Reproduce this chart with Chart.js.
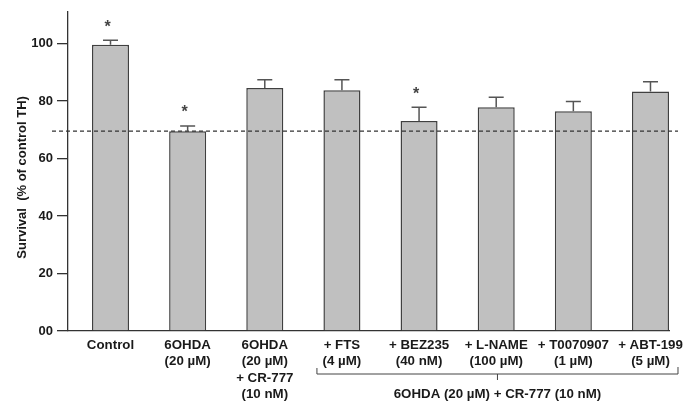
<!DOCTYPE html>
<html>
<head>
<meta charset="utf-8">
<script src="https://cdn.jsdelivr.net/npm/chart.js@4"></script>
<style>
  body { margin: 0; background: #fff; }
  #wrap { width: 697px; height: 411px; }
</style>
</head>
<body>
<div id="wrap"><canvas id="mycanvas"></canvas></div>
<script>
// data
var categories = [
	['Control'],
	['6OHDA', '(20 µM)'],
	['6OHDA', '(20 µM)', '+ CR-777', '(10 nM)'],
	['+ FTS', '(4 µM)'],
	['+ BEZ235', '(40 nM)'],
	['+ L-NAME', '(100 µM)'],
	['+ T0070907', '(1 µM)'],
	['+ ABT-199', '(5 µM)']
];
var survival = [99.5, 69.5, 84.5, 83.7, 73.0, 77.8, 76.4, 83.3];
var sem = [1.6, 1.8, 2.9, 3.7, 4.8, 3.5, 3.4, 3.4];
var significant = [true, true, false, false, true, false, false, false];
var yTicks = [0, 20, 40, 60, 80, 100];
var threshold = 69.5;
var groupLabel = '6OHDA (20 µM) + CR-777 (10 nM)';
var groupFrom = 3, groupTo = 7;
var yTitle = 'Survival  (% of control TH)';

var FONT = '"Liberation Sans", Arial, sans-serif';

var extras = {
	id: 'extras',
	afterDatasetsDraw: function(chart) {
		var ctx = chart.ctx;
		var x = chart.scales.x, y = chart.scales.y;
		var area = chart.chartArea;

		// dashed reference line
		ctx.save();
		ctx.strokeStyle = '#333';
		ctx.lineWidth = 1.3;
		ctx.setLineDash([4, 3]);
		ctx.beginPath();
		ctx.moveTo(area.left - 16, y.getPixelForValue(threshold));
		ctx.lineTo(area.right + 9, y.getPixelForValue(threshold));
		ctx.stroke();
		ctx.restore();

		// error bars + asterisks
		ctx.save();
		ctx.strokeStyle = '#555';
		ctx.lineWidth = 1.5;
		for (var i = 0; i < survival.length; i++) {
			var cx = x.getPixelForValue(i);
			var top = y.getPixelForValue(survival[i]);
			var cap = y.getPixelForValue(survival[i] + sem[i]);
			ctx.beginPath();
			ctx.moveTo(cx, top);
			ctx.lineTo(cx, cap);
			ctx.moveTo(cx - 7.5, cap);
			ctx.lineTo(cx + 7.5, cap);
			ctx.stroke();
			if (significant[i]) {
				ctx.fillStyle = '#444';
				ctx.font = 'bold 16px ' + FONT;
				ctx.textAlign = 'center';
				ctx.textBaseline = 'middle';
				ctx.fillText('*', cx - 3, cap - 13);
			}
		}
		ctx.restore();
	},
	afterDraw: function(chart) {
		var ctx = chart.ctx;
		var x = chart.scales.x;
		var area = chart.chartArea;

		// bracket under the treatment group
		var x1 = x.getPixelForValue(groupFrom) - 25;
		var x2 = x.getPixelForValue(groupTo) + 27.5;
		var by = area.bottom + 43;
		var mid = (x1 + x2) / 2;
		ctx.save();
		ctx.strokeStyle = '#444';
		ctx.lineWidth = 1;
		ctx.beginPath();
		ctx.moveTo(x1, by - 6);
		ctx.lineTo(x1, by);
		ctx.lineTo(x2, by);
		ctx.lineTo(x2, by - 7);
		ctx.moveTo(mid, by);
		ctx.lineTo(mid, by + 6);
		ctx.stroke();
		ctx.fillStyle = '#1a1a1a';
		ctx.font = 'bold 13.3px ' + FONT;
		ctx.textAlign = 'center';
		ctx.textBaseline = 'middle';
		ctx.fillText(groupLabel, mid, by + 20);

		// y title
		ctx.translate(22, (area.top + area.bottom) / 2 + 6);
		ctx.rotate(-Math.PI / 2);
		ctx.font = 'bold 13px ' + FONT;
		ctx.fillText(yTitle, 0, 0);
		ctx.restore();
	}
};

var chartdata = {
	datasets: [{
		data: categories.map(function(c, i) { return { x: i, y: survival[i] }; }),
		backgroundColor: '#c0c0c0',
		borderColor: '#404040',
		borderWidth: 1.5,
		barPercentage: 0.48,
		categoryPercentage: 1
	}]
};

var ctx = document.getElementById('mycanvas');
new Chart(ctx, {
	type: 'bar',
	data: chartdata,
	plugins: [extras],
	options: {
		responsive: true,
		maintainAspectRatio: false,
		animation: false,
		layout: { padding: { left: 0, top: 10, right: 28, bottom: 0 } },
		plugins: { legend: { display: false }, tooltip: { enabled: false } },
		scales: {
			x: {
				type: 'linear',
				offset: false,
				min: -0.551,
				max: 7.24,
				afterFit: function(s) { s.height = 80; },
				grid: { display: false, drawTicks: false },
				border: { display: true, color: '#333', width: 1.3 },
				ticks: {
					stepSize: 1,
					includeBounds: false,
					autoSkip: false,
					maxRotation: 0,
					padding: 6,
					color: '#1a1a1a',
					font: { family: FONT, size: 13.3, weight: 'bold', lineHeight: 1.24 },
					callback: function(v) { return categories[v] || ''; }
				}
			},
			y: {
				min: 0,
				max: 111,
				afterFit: function(s) { s.width = 68; },
				afterBuildTicks: function(s) { s.ticks = yTicks.map(function(v) { return { value: v }; }); },
				grid: { drawOnChartArea: false, tickLength: 11, color: '#333', lineWidth: 1.3 },
				border: { color: '#333', width: 1.3 },
				ticks: {
					padding: 4,
					color: '#1a1a1a',
					font: { family: FONT, size: 13, weight: 'bold' },
					callback: function(v) { return v === 0 ? '00' : v; }
				}
			}
		}
	}
});
</script>
</body>
</html>
